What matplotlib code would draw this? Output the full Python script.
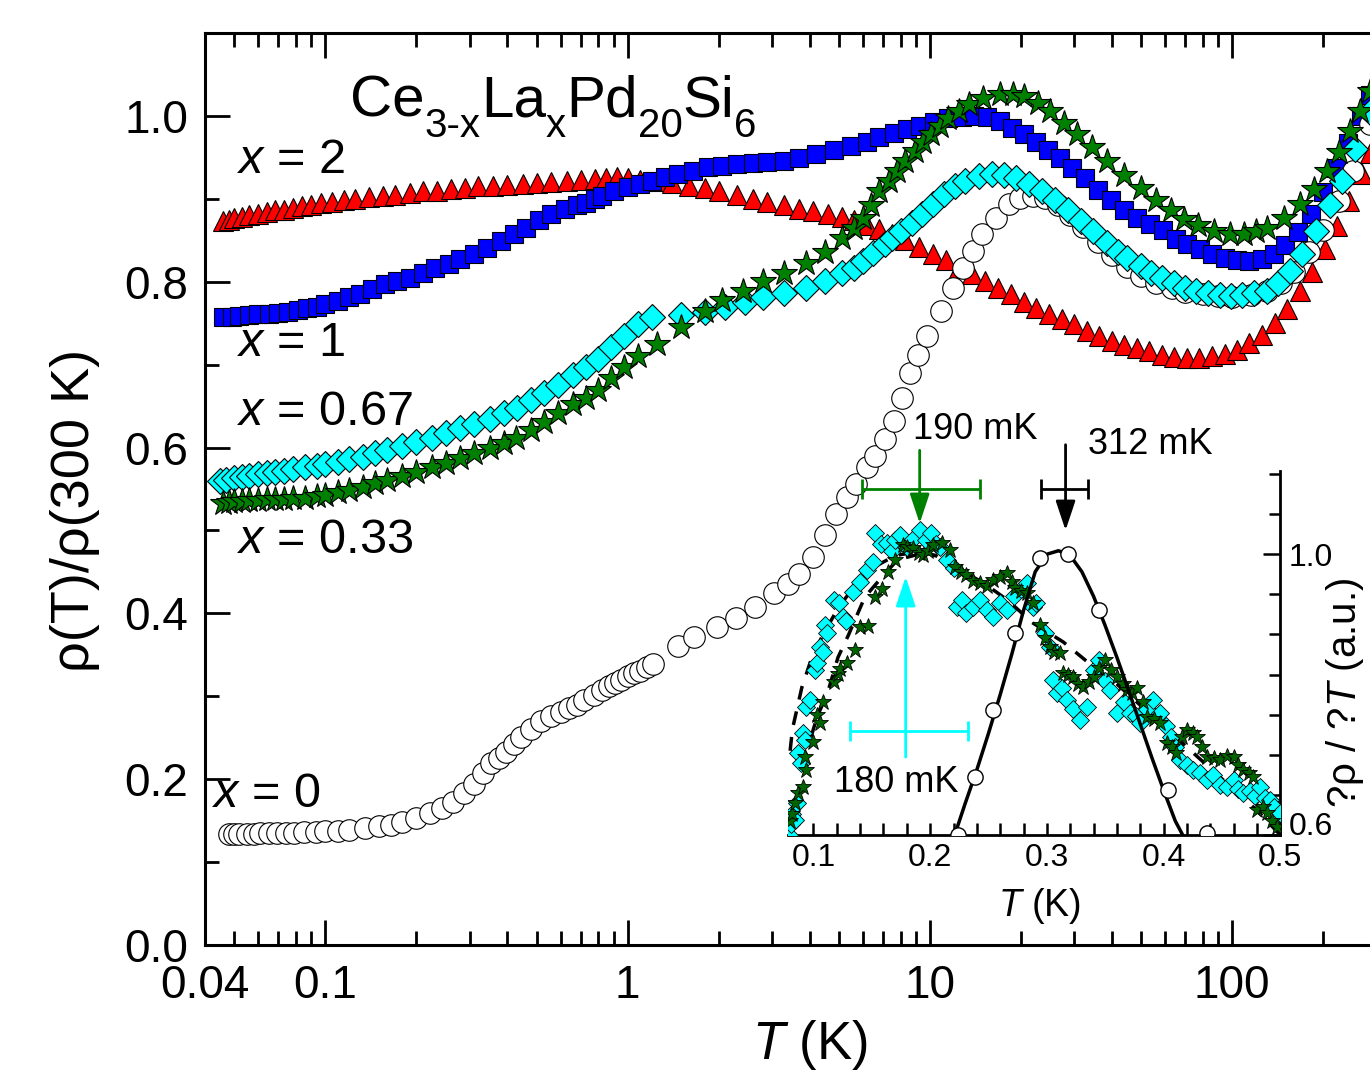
import numpy as np
import matplotlib.pyplot as plt
from matplotlib.ticker import LogLocator, NullFormatter, FixedLocator, MultipleLocator

plt.rcParams['font.family'] = 'Liberation Sans'
plt.rcParams['mathtext.fontset'] = 'custom'
plt.rcParams['mathtext.rm'] = 'Liberation Sans'
plt.rcParams['mathtext.it'] = 'Liberation Sans:italic'

# ---- main panel: rho(T)/rho(300 K) ----
T_x2 = [0.046, 0.048, 0.050, 0.053, 0.056, 0.060, 0.064, 0.068, 0.073, 0.078, 0.084, 0.090, 0.097,
        0.105, 0.115, 0.125, 0.14, 0.155, 0.17, 0.19, 0.21, 0.235, 0.26, 0.29, 0.32, 0.36, 0.40, 0.45,
        0.50, 0.56, 0.63, 0.70, 0.78, 0.85, 0.92, 1.0, 1.1, 1.25, 1.4, 1.6, 1.8, 2.0, 2.3, 2.6, 2.9,
        3.3, 3.7, 4.1, 4.6, 5.1, 5.6, 6.2, 6.8, 7.5, 8.3, 9.2, 10.2, 11.3, 12.5, 13.8, 15.2, 16.8,
        18.5, 20.4, 22.5, 24.8, 27.3, 30, 33, 36.3, 40, 44, 48.4, 53.2, 58.5, 64.4, 70.8, 77.9, 85.7,
        94.3, 103.7, 114, 125.5, 138, 151.8, 167, 183.7, 202, 222, 244, 268, 285]
r_x2 = [0.873, 0.875, 0.877, 0.878, 0.880, 0.882, 0.884, 0.886, 0.887, 0.889, 0.891, 0.893, 0.895,
        0.896, 0.898, 0.900, 0.902, 0.904, 0.905, 0.907, 0.909, 0.910, 0.912, 0.913, 0.915, 0.916,
        0.917, 0.918, 0.919, 0.920, 0.921, 0.923, 0.924, 0.925, 0.926, 0.925, 0.923, 0.921, 0.919,
        0.916, 0.913, 0.910, 0.905, 0.900, 0.896, 0.892, 0.888, 0.885, 0.882, 0.878, 0.874, 0.869,
        0.864, 0.857, 0.850, 0.842, 0.834, 0.826, 0.816, 0.809, 0.801, 0.793, 0.785, 0.776, 0.768,
        0.761, 0.755, 0.749, 0.741, 0.734, 0.729, 0.724, 0.720, 0.716, 0.712, 0.709, 0.708, 0.708,
        0.710, 0.713, 0.718, 0.726, 0.736, 0.750, 0.767, 0.789, 0.812, 0.840, 0.867, 0.897, 0.930, 0.955]

T_x1 = [0.046, 0.049, 0.052, 0.056, 0.060, 0.065, 0.070, 0.075, 0.081, 0.087, 0.094, 0.10, 0.11,
        0.12, 0.13, 0.143, 0.157, 0.172, 0.19, 0.21, 0.23, 0.257, 0.28, 0.31, 0.343, 0.38, 0.42, 0.46,
        0.51, 0.56, 0.62, 0.68, 0.73, 0.78, 0.82, 0.9, 1.0, 1.1, 1.2, 1.33, 1.47, 1.65, 1.85, 2.05,
        2.3, 2.6, 2.9, 3.3, 3.7, 4.2, 4.8, 5.5, 6.2, 6.8, 7.6, 8.4, 9.3, 10.3, 11.5, 12.8, 14, 15.5,
        17, 18.7, 20.5, 22.5, 24.5, 27, 29.5, 32.5, 36, 39.7, 44, 48.5, 53.5, 59, 65, 71, 78, 86, 95,
        104, 114, 125, 137, 150, 165, 182, 200, 220, 242, 266, 285]
r_x1 = [0.757, 0.758, 0.759, 0.760, 0.761, 0.761, 0.762, 0.764, 0.766, 0.768, 0.770, 0.773, 0.777,
        0.781, 0.785, 0.791, 0.797, 0.801, 0.805, 0.811, 0.816, 0.821, 0.827, 0.834, 0.841, 0.849,
        0.858, 0.865, 0.874, 0.882, 0.888, 0.892, 0.895, 0.900, 0.904, 0.910, 0.914, 0.918, 0.922,
        0.926, 0.930, 0.934, 0.938, 0.940, 0.942, 0.943, 0.944, 0.946, 0.949, 0.954, 0.959, 0.964,
        0.969, 0.974, 0.979, 0.984, 0.988, 0.993, 0.997, 0.999, 1.000, 0.999, 0.994, 0.986, 0.978,
        0.968, 0.959, 0.949, 0.937, 0.925, 0.911, 0.898, 0.886, 0.877, 0.870, 0.862, 0.852, 0.846,
        0.840, 0.834, 0.829, 0.826, 0.825, 0.827, 0.833, 0.844, 0.860, 0.882, 0.908, 0.937, 0.967,
        1.000, 1.025]

T_x067 = [0.045, 0.047, 0.050, 0.053, 0.056, 0.060, 0.064, 0.068, 0.073, 0.078, 0.086, 0.094, 0.10,
          0.11, 0.12, 0.133, 0.146, 0.16, 0.18, 0.20, 0.225, 0.25, 0.28, 0.31, 0.35, 0.39, 0.43, 0.48,
          0.53, 0.59, 0.66, 0.73, 0.80, 0.88, 0.97, 1.08, 1.2, 1.5, 1.8, 2.1, 2.45, 2.8, 3.3, 3.9, 4.5,
          5.1, 5.6, 6.0, 6.5, 7.1, 7.5, 8.0, 8.7, 9.4, 10.2, 11.1, 12.1, 13.1, 14.5, 16, 17.6, 19.2,
          21.2, 23.5, 26, 28.7, 31.5, 34.7, 38.5, 42, 45, 50, 54, 58.5, 64, 70, 76, 83, 91, 99, 108,
          118, 130, 142, 155, 170, 190, 210, 230, 255, 285]
r_x067 = [0.560, 0.561, 0.563, 0.565, 0.566, 0.568, 0.569, 0.571, 0.572, 0.574, 0.576, 0.578, 0.580,
          0.583, 0.586, 0.589, 0.593, 0.597, 0.602, 0.607, 0.612, 0.617, 0.623, 0.629, 0.635, 0.642,
          0.648, 0.657, 0.666, 0.676, 0.687, 0.697, 0.707, 0.721, 0.734, 0.749, 0.757, 0.760, 0.764,
          0.769, 0.775, 0.781, 0.787, 0.793, 0.801, 0.810, 0.817, 0.825, 0.835, 0.846, 0.853, 0.861,
          0.871, 0.882, 0.894, 0.906, 0.915, 0.922, 0.927, 0.930, 0.929, 0.925, 0.918, 0.910, 0.899,
          0.886, 0.873, 0.861, 0.847, 0.836, 0.829, 0.819, 0.811, 0.805, 0.798, 0.793, 0.789, 0.786,
          0.784, 0.783, 0.784, 0.786, 0.789, 0.799, 0.813, 0.834, 0.861, 0.892, 0.922, 0.960, 1.005]

T_x033 = [0.046, 0.048, 0.050, 0.053, 0.056, 0.060, 0.064, 0.068, 0.073, 0.078, 0.086, 0.094, 0.10,
          0.11, 0.12, 0.133, 0.146, 0.16, 0.18, 0.20, 0.225, 0.251, 0.28, 0.31, 0.35, 0.39, 0.428,
          0.48, 0.53, 0.59, 0.66, 0.73, 0.80, 0.88, 0.97, 1.08, 1.25, 1.5, 1.8, 2.05, 2.4, 2.8, 3.3,
          3.9, 4.5, 5.1, 5.6, 6.0, 6.4, 6.8, 7.3, 7.8, 8.3, 8.9, 9.5, 10.1, 10.8, 11.5, 12.5, 13.5, 15,
          17, 18.8, 20.5, 22.7, 25, 27.7, 30.6, 34.3, 38.5, 44, 50, 56, 62.5, 69, 77, 87, 98, 109, 120,
          130, 148, 168, 186, 206, 225, 245, 265, 285]
r_x033 = [0.533, 0.534, 0.535, 0.536, 0.537, 0.537, 0.538, 0.538, 0.538, 0.539, 0.539, 0.541, 0.543,
          0.546, 0.549, 0.553, 0.557, 0.561, 0.566, 0.571, 0.576, 0.581, 0.587, 0.593, 0.600, 0.606,
          0.612, 0.621, 0.631, 0.642, 0.652, 0.660, 0.670, 0.684, 0.697, 0.710, 0.725, 0.745, 0.765,
          0.778, 0.789, 0.801, 0.811, 0.822, 0.836, 0.853, 0.865, 0.877, 0.893, 0.910, 0.922, 0.934,
          0.946, 0.958, 0.968, 0.978, 0.988, 0.998, 1.006, 1.014, 1.021, 1.026, 1.026, 1.024, 1.016,
          1.006, 0.992, 0.978, 0.962, 0.946, 0.929, 0.913, 0.899, 0.886, 0.876, 0.868, 0.861, 0.858,
          0.858, 0.861, 0.865, 0.877, 0.894, 0.912, 0.934, 0.957, 0.982, 1.006, 1.030]

T_x0 = [0.048, 0.050, 0.052, 0.055, 0.058, 0.061, 0.065, 0.069, 0.074, 0.079, 0.085, 0.093, 0.10,
        0.11, 0.12, 0.135, 0.15, 0.165, 0.18, 0.20, 0.222, 0.243, 0.265, 0.288, 0.311, 0.333, 0.354,
        0.375, 0.397, 0.42, 0.445, 0.48, 0.518, 0.56, 0.60, 0.64, 0.68, 0.72, 0.776, 0.82, 0.87, 0.91,
        0.952, 1.0, 1.05, 1.1, 1.16, 1.21, 1.47, 1.66, 1.98, 2.29, 2.64, 3.06, 3.4, 3.7, 4.1, 4.5, 4.9,
        5.3, 5.7, 6.2, 6.6, 7.1, 7.6, 8.1, 8.6, 9.1, 9.8, 10.9, 11.9, 12.9, 13.9, 14.9, 16.5, 18.2,
        19.9, 21.9, 24, 26.5, 29, 32, 36, 40, 45, 50, 56, 63, 70, 80, 90, 100, 115, 130, 145, 160,
        180, 200, 225, 250, 285]
r_x0 = [0.134, 0.134, 0.134, 0.134, 0.134, 0.135, 0.135, 0.135, 0.135, 0.135, 0.136, 0.136, 0.137,
        0.138, 0.139, 0.141, 0.143, 0.145, 0.148, 0.153, 0.159, 0.165, 0.172, 0.183, 0.194, 0.207,
        0.219, 0.226, 0.233, 0.242, 0.251, 0.261, 0.270, 0.276, 0.281, 0.286, 0.290, 0.295, 0.302,
        0.307, 0.312, 0.316, 0.320, 0.324, 0.328, 0.331, 0.335, 0.339, 0.361, 0.371, 0.384, 0.394,
        0.408, 0.424, 0.436, 0.448, 0.468, 0.494, 0.520, 0.540, 0.556, 0.576, 0.590, 0.610, 0.632,
        0.660, 0.690, 0.712, 0.735, 0.765, 0.793, 0.817, 0.837, 0.858, 0.877, 0.894, 0.901, 0.904,
        0.901, 0.893, 0.881, 0.866, 0.848, 0.832, 0.818, 0.807, 0.799, 0.792, 0.788, 0.785, 0.783,
        0.782, 0.784, 0.789, 0.798, 0.812, 0.836, 0.862, 0.897, 0.934, 0.990]

labels = ['$x$ = 2', '$x$ = 1', '$x$ = 0.67', '$x$ = 0.33', '$x$ = 0']
label_T = [0.0512, 0.0512, 0.0512, 0.0512, 0.0423]
label_y = [0.946, 0.725, 0.642, 0.488, 0.181]

# formula pieces: (text, is_subscript)
formula = [('Ce', False), ('3-x', True), ('La', False), ('x', True),
           ('Pd', False), ('20', True), ('Si', False), ('6', True)]

# ---- inset: normalised d rho / dT ----
ins_x0 = [0.224, 0.238, 0.254, 0.273, 0.294, 0.318, 0.345, 0.404, 0.437]
ins_y0 = [0.600, 0.683, 0.778, 0.888, 0.994, 1.001, 0.920, 0.664, 0.603]
fit_x = [0.221, 0.23, 0.24, 0.25, 0.26, 0.27, 0.28, 0.29, 0.30, 0.31, 0.32, 0.33, 0.34, 0.35, 0.36,
         0.37, 0.38, 0.39, 0.40, 0.41, 0.417]
fit_y = [0.600, 0.645, 0.693, 0.745, 0.800, 0.858, 0.920, 0.975, 1.000, 1.005, 0.998, 0.975, 0.940,
         0.898, 0.853, 0.806, 0.758, 0.710, 0.664, 0.620, 0.598]
dash_a_x = [0.080, 0.082, 0.090, 0.098, 0.108, 0.120, 0.135, 0.150, 0.170, 0.190, 0.205, 0.226, 0.245,
            0.266, 0.288, 0.314, 0.333, 0.360, 0.380, 0.400, 0.420, 0.440, 0.460, 0.480, 0.500]
dash_a_y = [0.720, 0.751, 0.810, 0.850, 0.885, 0.920, 0.955, 0.980, 0.998, 1.004, 0.998, 0.977, 0.960,
            0.935, 0.902, 0.875, 0.849, 0.815, 0.785, 0.755, 0.725, 0.695, 0.665, 0.635, 0.600]
dash_b_x = [0.098, 0.103, 0.112, 0.121, 0.130, 0.144, 0.160, 0.172, 0.190, 0.205]
dash_b_y = [0.740, 0.768, 0.802, 0.853, 0.885, 0.939, 0.970, 0.992, 1.000, 0.998]

cy_x = [0.079, 0.081, 0.082, 0.084, 0.086, 0.087, 0.089, 0.091, 0.093, 0.094, 0.097, 0.101, 0.103,
        0.106, 0.108, 0.110, 0.112, 0.118, 0.122, 0.125, 0.128, 0.134, 0.140, 0.146, 0.151, 0.153,
        0.158, 0.163, 0.167, 0.170, 0.174, 0.180, 0.185, 0.191, 0.196, 0.201, 0.205, 0.208, 0.214,
        0.220, 0.223, 0.227, 0.231, 0.237, 0.243, 0.249, 0.254, 0.260, 0.266, 0.272, 0.278, 0.283,
        0.288, 0.291, 0.298, 0.303, 0.305, 0.309, 0.313, 0.317, 0.322, 0.328, 0.334, 0.340, 0.345,
        0.350, 0.354, 0.360, 0.366, 0.371, 0.376, 0.380, 0.386, 0.391, 0.397, 0.402, 0.406, 0.410,
        0.414, 0.420, 0.425, 0.431, 0.437, 0.442, 0.448, 0.454, 0.460, 0.464, 0.468, 0.474, 0.478,
        0.483, 0.487, 0.491, 0.495, 0.500]
cy_y = [0.600, 0.615, 0.630, 0.621, 0.645, 0.717, 0.703, 0.745, 0.735, 0.782, 0.792, 0.835, 0.845,
        0.868, 0.860, 0.899, 0.888, 0.935, 0.930, 0.911, 0.905, 0.946, 0.960, 0.977, 0.989, 1.030,
        1.015, 1.016, 1.005, 1.020, 1.027, 1.010, 1.022, 1.034, 1.020, 1.030, 1.015, 1.010, 0.992,
        0.980, 0.925, 0.935, 0.916, 0.925, 0.935, 0.920, 0.911, 0.930, 0.921, 0.940, 0.950, 0.959,
        0.925, 0.930, 0.888, 0.868, 0.821, 0.802, 0.810, 0.792, 0.780, 0.764, 0.782, 0.835, 0.849,
        0.820, 0.807, 0.774, 0.790, 0.774, 0.770, 0.760, 0.780, 0.792, 0.774, 0.755, 0.740, 0.725,
        0.707, 0.700, 0.693, 0.688, 0.678, 0.685, 0.671, 0.668, 0.678, 0.665, 0.660, 0.662, 0.655,
        0.668, 0.652, 0.650, 0.640, 0.631]

gr_x = [0.080, 0.082, 0.084, 0.087, 0.091, 0.093, 0.094, 0.100, 0.103, 0.106, 0.108, 0.118, 0.121,
        0.123, 0.129, 0.136, 0.140, 0.147, 0.153, 0.159, 0.164, 0.170, 0.177, 0.180, 0.185, 0.190,
        0.194, 0.198, 0.202, 0.210, 0.217, 0.221, 0.226, 0.231, 0.237, 0.243, 0.249, 0.254, 0.260,
        0.266, 0.270, 0.273, 0.278, 0.283, 0.288, 0.294, 0.298, 0.303, 0.306, 0.311, 0.314, 0.318,
        0.322, 0.327, 0.331, 0.336, 0.340, 0.345, 0.350, 0.355, 0.360, 0.365, 0.369, 0.373, 0.377,
        0.382, 0.386, 0.392, 0.397, 0.403, 0.407, 0.411, 0.416, 0.420, 0.425, 0.429, 0.433, 0.437,
        0.443, 0.448, 0.454, 0.460, 0.464, 0.468, 0.473, 0.477, 0.480, 0.485, 0.489, 0.493, 0.497]
gr_y = [0.620, 0.630, 0.646, 0.660, 0.668, 0.711, 0.693, 0.732, 0.771, 0.760, 0.789, 0.818, 0.830,
        0.837, 0.845, 0.864, 0.897, 0.898, 0.939, 0.951, 0.975, 0.992, 1.013, 1.010, 1.009, 1.002,
        0.999, 1.005, 1.013, 1.016, 1.006, 0.982, 0.975, 0.970, 0.962, 0.959, 0.955, 0.963, 0.968,
        0.973, 0.960, 0.952, 0.948, 0.945, 0.930, 0.899, 0.880, 0.868, 0.860, 0.859, 0.831, 0.828,
        0.825, 0.815, 0.811, 0.818, 0.825, 0.838, 0.849, 0.835, 0.825, 0.815, 0.807, 0.803, 0.810,
        0.790, 0.768, 0.765, 0.760, 0.731, 0.725, 0.717, 0.740, 0.750, 0.745, 0.740, 0.725, 0.711,
        0.709, 0.707, 0.712, 0.711, 0.700, 0.693, 0.688, 0.683, 0.636, 0.640, 0.631, 0.620, 0.611]

fig = plt.figure(figsize=(13.7, 10.7), dpi=100)
ax = fig.add_axes([205 / 1370, 125 / 1070, 1165 / 1370, 912 / 1070])
ax.set_xscale('log')

ax.plot(T_x2, r_x2, ls='none', marker='^', ms=15, mfc='red', mec='k', mew=0.8, zorder=2)
ax.plot(T_x1, r_x1, ls='none', marker='s', ms=13.5, mfc='blue', mec='k', mew=0.8, zorder=3)
ax.plot(T_x0, r_x0, ls='none', marker='o', ms=15.5, mfc='white', mec='k', mew=0.8, zorder=4)
ax.plot(T_x067, r_x067, ls='none', marker='D', ms=13.5, mfc='cyan', mec='k', mew=0.8, zorder=5)
ax.plot(T_x033, r_x033, ls='none', marker='*', ms=19, mfc='green', mec='k', mew=0.8, zorder=6)

for lab, xt, yt in zip(labels, label_T, label_y):
    ax.text(xt, yt, lab, fontsize=35, ha='left', va='center')

# chemical formula, built piece by piece so the subscripts sit low like the original
first = ax.text(0.121, 0.985, formula[0][0], fontsize=42, ha='left', va='bottom')
prev = first
for piece, is_sub in formula[1:]:
    prev = ax.annotate(piece, xy=(1, 0), xycoords=(prev, first),
                       xytext=(0, -12 if is_sub else 0), textcoords='offset points',
                       fontsize=29 if is_sub else 42, ha='left', va='bottom')

ax.set_xlim(0.04, 285.6)
ax.set_ylim(0, 1.1)
ax.set_xticks([0.04, 0.1, 1, 10, 100])
ax.set_xticklabels(['0.04', '0.1', '1', '10', '100'])
ax.xaxis.set_minor_locator(LogLocator(base=10, subs=np.arange(2, 10)))
ax.xaxis.set_minor_formatter(NullFormatter())
ax.set_yticks(np.arange(0, 1.01, 0.2))
ax.set_yticklabels(['0.0', '0.2', '0.4', '0.6', '0.8', '1.0'])
ax.yaxis.set_minor_locator(MultipleLocator(0.1))
ax.tick_params(which='both', direction='in', top=True, right=False, width=2, labelsize=33)
ax.tick_params(which='major', length=18)
ax.tick_params(which='minor', length=10)
ax.tick_params(axis='x', pad=14)
ax.tick_params(axis='y', pad=12)
for s in ['left', 'bottom', 'top']:
    ax.spines[s].set_linewidth(2.2)
ax.spines['right'].set_visible(False)

ax.set_xlabel('$T$ (K)', fontsize=38)
ax.xaxis.set_label_coords(0.519, -0.08)
ax.set_ylabel('ρ(T)/ρ(300 K)', fontsize=39)
ax.yaxis.set_label_coords(-0.09, 0.477)

# ---- inset ----
axin = fig.add_axes([787.8 / 1370, 235 / 1070, 492.5 / 1370, 363.6 / 1070], facecolor='none')
axin.set_xlim(0.078, 0.5)
axin.set_ylim(0.6, 1.118)

axin.plot(dash_a_x, dash_a_y, color='k', lw=2.5, dashes=(4, 3.5), zorder=2)
axin.plot(dash_b_x, dash_b_y, color='k', lw=2.5, dashes=(4, 3.5), zorder=2)
axin.plot(cy_x, cy_y, ls='none', marker='D', ms=9.5, mfc='cyan', mec='k', mew=0.6, zorder=3)
axin.plot(gr_x, gr_y, ls='none', marker='*', ms=12, mfc='#006400', mec='k', mew=0.6, zorder=4)
axin.plot(fit_x, fit_y, color='k', lw=2.5, zorder=5)
axin.plot(ins_x0, ins_y0, ls='none', marker='o', ms=11, mfc='white', mec='k', mew=1, zorder=6)

arrow_kw = dict(arrowstyle='-|>,head_length=0.9,head_width=0.3', lw=2, mutation_scale=20,
                shrinkA=0, shrinkB=0)
axin.annotate('', xy=(0.191, 1.044), xytext=(0.191, 1.148), annotation_clip=False,
              arrowprops=dict(color='green', **arrow_kw))
axin.errorbar([0.191], [1.093], xerr=[[0.0495], [0.052]], fmt='none', ecolor='green', elinewidth=2,
              capsize=7, capthick=2, clip_on=False)
axin.annotate('', xy=(0.316, 1.034), xytext=(0.316, 1.156), annotation_clip=False,
              arrowprops=dict(color='black', **arrow_kw))
axin.errorbar([0.316], [1.093], xerr=[[0.021], [0.019]], fmt='none', ecolor='black', elinewidth=2,
              capsize=7, capthick=2, clip_on=False)
axin.annotate('', xy=(0.179, 0.968), xytext=(0.179, 0.711), annotation_clip=False,
              arrowprops=dict(color='cyan', **arrow_kw))
axin.errorbar([0.179], [0.748], xerr=[[0.048], [0.053]], fmt='none', ecolor='cyan', elinewidth=2,
              capsize=7, capthick=2, clip_on=False)

axin.text(0.239, 1.177, '190 mK', fontsize=26, ha='center', va='center')
axin.text(0.389, 1.156, '312 mK', fontsize=26, ha='center', va='center')
axin.text(0.171, 0.675, '180 mK', fontsize=26, ha='center', va='center')

axin.spines['top'].set_visible(False)
axin.spines['left'].set_visible(False)
axin.spines['bottom'].set_linewidth(2)
axin.spines['right'].set_linewidth(2)
axin.yaxis.tick_right()
axin.yaxis.set_label_position('right')
axin.set_xticks([0.1, 0.2, 0.3, 0.4, 0.5])
axin.set_xticklabels(['0.1', '0.2', '0.3', '0.4', '0.5'])
axin.xaxis.set_minor_locator(MultipleLocator(0.02))
axin.set_yticks([0.6, 1.0])
axin.set_yticklabels(['0.6', '1.0'])
axin.yaxis.set_minor_locator(FixedLocator([0.6 + k * 0.4 / 7 for k in range(1, 10) if k != 7]))
axin.tick_params(which='both', direction='in', width=1.8, labelsize=23, pad=6)
axin.tick_params(axis='x', which='both', length=9)
axin.tick_params(axis='y', which='major', length=12)
axin.tick_params(axis='y', which='minor', length=8)
# lift the "0.6" label a little so it clears the "0.5" below it
axin.yaxis.get_major_ticks()[0].label2.set_va('baseline')
axin.set_xlabel('$T$ (K)', fontsize=27)
axin.xaxis.set_label_coords(0.512, -0.14)
axin.set_ylabel('?ρ / ?$T$ (a.u.)', fontsize=29)
axin.yaxis.set_label_coords(1.088, 0.39)

fig.savefig('out.png', dpi=100)
